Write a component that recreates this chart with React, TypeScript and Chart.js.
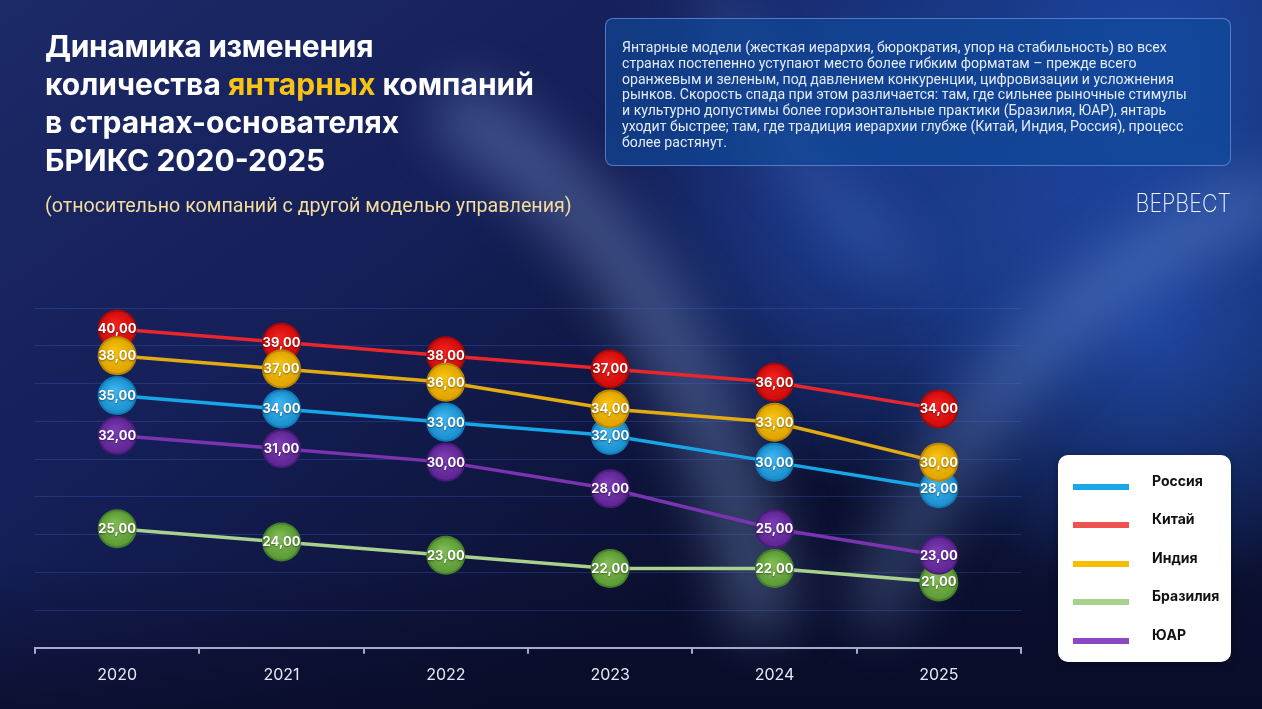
import React, { useEffect, useRef } from "react";
import { Chart, registerables } from "chart.js";

Chart.register(...registerables);

const years = ["2020", "2021", "2022", "2023", "2024", "2025"];
const russia = [35, 34, 33, 32, 30, 28];
const china = [40, 39, 38, 37, 36, 34];
const india = [38, 37, 36, 34, 33, 30];
const brazil = [25, 24, 23, 22, 22, 21];
const southAfrica = [32, 31, 30, 28, 25, 23];

const seriesNames = ["Россия", "Китай", "Индия", "Бразилия", "ЮАР"];
const lineColors = ["#17a6e8", "#e8262d", "#e3ab12", "#a9d18e", "#7a34b0"];
const legendColors = ["#1ba6e6", "#ef5350", "#f7bd05", "#a9d18e", "#8c47c4"];
const markerColors = [
  ["#3db4ee", "#1a8fcf", "#137bb5"],
  ["#f0201c", "#d00c0c", "#a80808"],
  ["#f6c20e", "#e0a300", "#b98600"],
  ["#7fbb52", "#5c9a35", "#46802a"],
  ["#7a3bb2", "#5e2594", "#4a1b7a"],
];

const Y_MIN = 16.05;
const Y_MAX = 41.58;
const GRID_COUNT = 9;

const titleLines = ["Динамика изменения", "количества ", "янтарных", " компаний", "в странах-основателях", "БРИКС 2020-2025"];
const subtitle = "(относительно компаний с другой моделью управления)";
const noteText =
  "Янтарные модели (жесткая иерархия, бюрократия, упор на стабильность) во всех\nстранах постепенно уступают место более гибким форматам – прежде всего\nоранжевым и зеленым, под давлением конкуренции, цифровизации и усложнения\nрынков. Скорость спада при этом различается: там, где сильнее рыночные стимулы\nи культурно допустимы более горизонтальные практики (Бразилия, ЮАР), янтарь\nуходит быстрее; там, где традиция иерархии глубже (Китай, Индия, Россия), процесс\nболее растянут.";

const fmt = (v: number) => v.toFixed(2).replace(".", ",");

const backgroundPlugin = {
  id: "bg",
  beforeDraw(chart: any) {
    const { ctx, width, height } = chart;
    ctx.save();
    const g = ctx.createLinearGradient(0, 0, width * 0.4, height);
    g.addColorStop(0, "#1c2a68");
    g.addColorStop(0.5, "#151f58");
    g.addColorStop(1, "#0b1030");
    ctx.fillStyle = g;
    ctx.fillRect(0, 0, width, height);

    const r1 = ctx.createRadialGradient(1150, 60, 10, 1150, 60, 540);
    r1.addColorStop(0, "rgba(28,72,165,0.95)");
    r1.addColorStop(1, "rgba(28,72,165,0)");
    ctx.fillStyle = r1;
    ctx.fillRect(0, 0, width, height);

    const r1b = ctx.createRadialGradient(850, 230, 10, 850, 230, 260);
    r1b.addColorStop(0, "rgba(35,75,175,0.55)");
    r1b.addColorStop(1, "rgba(35,75,175,0)");
    ctx.fillStyle = r1b;
    ctx.fillRect(0, 0, width, height);

    const r2 = ctx.createRadialGradient(1150, 330, 10, 1150, 330, 260);
    r2.addColorStop(0, "rgba(40,90,200,0.55)");
    r2.addColorStop(1, "rgba(40,90,200,0)");
    ctx.fillStyle = r2;
    ctx.fillRect(0, 0, width, height);

    const r3 = ctx.createLinearGradient(0, 560, 0, height);
    r3.addColorStop(0, "rgba(8,10,35,0)");
    r3.addColorStop(1, "rgba(8,10,35,0.6)");
    ctx.fillStyle = r3;
    ctx.fillRect(0, 0, width, height);

    ctx.filter = "blur(26px)";
    ctx.lineCap = "round";
    ctx.strokeStyle = "rgba(150,180,235,0.32)";
    ctx.lineWidth = 70;
    ctx.beginPath();
    ctx.moveTo(470, 120);
    ctx.quadraticCurveTo(690, 260, 760, 600);
    ctx.stroke();
    ctx.strokeStyle = "rgba(140,175,235,0.27)";
    ctx.lineWidth = 60;
    ctx.beginPath();
    ctx.moveTo(1262, 200);
    ctx.quadraticCurveTo(1000, 300, 880, 600);
    ctx.stroke();
    ctx.strokeStyle = "rgba(120,160,230,0.18)";
    ctx.lineWidth = 40;
    ctx.beginPath();
    ctx.moveTo(720, 0);
    ctx.quadraticCurveTo(760, 150, 900, 260);
    ctx.stroke();
    ctx.filter = "none";
    ctx.restore();
  },
};

const markerPlugin = {
  id: "markers",
  afterDatasetsDraw(chart: any) {
    const { ctx } = chart;
    ctx.save();
    chart.data.datasets.forEach((ds: any, di: number) => {
      const meta = chart.getDatasetMeta(di);
      const [light, base, dark] = markerColors[di];
      meta.data.forEach((pt: any, i: number) => {
        const x = pt.x;
        const y = pt.y;
        const r = 19.5;
        ctx.beginPath();
        ctx.arc(x, y, r, 0, Math.PI * 2);
        ctx.fillStyle = dark;
        ctx.fill();
        const g = ctx.createRadialGradient(x - 3, y - 5, 2, x, y, r - 2);
        g.addColorStop(0, light);
        g.addColorStop(1, base);
        ctx.beginPath();
        ctx.arc(x, y, r - 2, 0, Math.PI * 2);
        ctx.fillStyle = g;
        ctx.fill();
        ctx.font = "700 13px Inter, 'Noto Sans', sans-serif";
        ctx.textAlign = "center";
        ctx.textBaseline = "middle";
        ctx.shadowColor = "rgba(0,0,0,0.45)";
        ctx.shadowBlur = 2;
        ctx.shadowOffsetY = 1;
        ctx.fillStyle = "#ffffff";
        ctx.fillText(fmt(ds.data[i]), x, y + 0.5);
        ctx.shadowColor = "transparent";
        ctx.shadowBlur = 0;
        ctx.shadowOffsetY = 0;
      });
    });
    ctx.restore();
  },
};

function App() {
  const ref = useRef<HTMLCanvasElement>(null);
  useEffect(() => {
    if (!ref.current) return;
    const seriesData = [russia, china, india, brazil, southAfrica];
    const chart = new Chart(ref.current, {
      type: "line",
      data: {
        labels: years,
        datasets: seriesData.map((d, i) => ({
          label: seriesNames[i],
          data: d,
          borderColor: lineColors[i],
          borderWidth: 3.5,
          pointRadius: 0,
          pointHoverRadius: 0,
          tension: 0,
          fill: false,
          clip: false as any,
        })),
      },
      options: {
        responsive: false,
        animation: false,
        layout: { padding: { left: 35, right: 241, top: 308, bottom: 12 } },
        plugins: { legend: { display: false }, tooltip: { enabled: false }, title: { display: false } },
        scales: {
          x: {
            offset: true,
            grid: {
              offset: true,
              drawOnChartArea: false,
              drawTicks: true,
              tickLength: 6,
              color: "#a3aacb",
              lineWidth: 2,
            },
            border: { display: true, color: "#a3aacb", width: 2 },
            ticks: {
              color: "#e6e9f5",
              font: { family: "Inter, 'Noto Sans', sans-serif", size: 16 },
              padding: 12,
            },
          },
          y: {
            min: Y_MIN,
            max: Y_MAX,
            afterBuildTicks(scale: any) {
              const step = (Y_MAX - Y_MIN) / GRID_COUNT;
              scale.ticks = Array.from({ length: GRID_COUNT + 1 }, (_, k) => ({ value: Y_MIN + k * step }));
            },
            ticks: { display: false },
            border: { display: false },
            grid: { color: "rgba(70,110,215,0.28)", lineWidth: 1, drawTicks: false },
          },
        },
      },
      plugins: [backgroundPlugin, markerPlugin],
    });
    return () => chart.destroy();
  }, []);

  const font = "Inter, 'Noto Sans', sans-serif";
  return (
    <div style={{ position: "absolute", left: 0, top: 0, width: 1262, height: 709, overflow: "hidden" }}>
      <canvas ref={ref} width={1262} height={709} style={{ position: "absolute", left: 0, top: 0 }} />
      <div
        style={{
          position: "absolute",
          left: 45,
          top: 27,
          color: "#ffffff",
          fontFamily: font,
          fontWeight: 700,
          fontSize: 30,
          lineHeight: "38px",
          whiteSpace: "nowrap",
        }}
      >
        <div style={{ letterSpacing: -0.3 }}>{titleLines[0]}</div>
        <div>
          {titleLines[1]}
          <span style={{ color: "#f6c316" }}>{titleLines[2]}</span>
          {titleLines[3]}
        </div>
        <div>{titleLines[4]}</div>
        <div>{titleLines[5]}</div>
      </div>
      <div
        style={{
          position: "absolute",
          left: 45,
          top: 194,
          color: "#f3dc9c",
          fontFamily: "Roboto, sans-serif",
          fontSize: 19.7,
          lineHeight: "23px",
          whiteSpace: "nowrap",
        }}
      >
        {subtitle}
      </div>
      <div
        style={{
          position: "absolute",
          left: 605,
          top: 18,
          width: 624,
          height: 146,
          borderRadius: 8,
          border: "1px solid rgba(110,150,225,0.7)",
          background: "rgba(14,74,155,0.62)",
          boxSizing: "content-box",
        }}
      >
        <div
          style={{
            position: "absolute",
            left: 16,
            top: 21,
            color: "#e4ebf7",
            fontFamily: "Roboto, sans-serif",
            fontSize: 14.1,
            lineHeight: "15.8px",
            whiteSpace: "pre",
          }}
        >
          {noteText}
        </div>
      </div>
      <div
        style={{
          position: "absolute",
          right: 31,
          top: 188,
          color: "#f2f4fa",
          fontFamily: font,
          fontWeight: 200,
          fontSize: 25,
          letterSpacing: 0,
          lineHeight: "30px",
          transform: "scaleX(0.86)",
          transformOrigin: "right center",
        }}
      >
        ВЕРВЕСТ
      </div>
      <div
        style={{
          position: "absolute",
          left: 1058,
          top: 455,
          width: 173,
          height: 207,
          borderRadius: 10,
          background: "#ffffff",
          boxShadow: "0 2px 8px rgba(0,0,0,0.35)",
        }}
      >
        {seriesNames.map((n, i) => (
          <div key={n} style={{ position: "absolute", left: 0, top: 22 + i * 38.4, width: 173, height: 20 }}>
            <div
              style={{
                position: "absolute",
                left: 15,
                top: 7,
                width: 56,
                height: 6,
                background: legendColors[i],
              }}
            />
            <div
              style={{
                position: "absolute",
                left: 94,
                top: -6,
                fontFamily: font,
                fontWeight: 700,
                fontSize: 14,
                lineHeight: "20px",
                color: "#111111",
                whiteSpace: "nowrap",
              }}
            >
              {n}
            </div>
          </div>
        ))}
      </div>
    </div>
  );
}

export default App;
